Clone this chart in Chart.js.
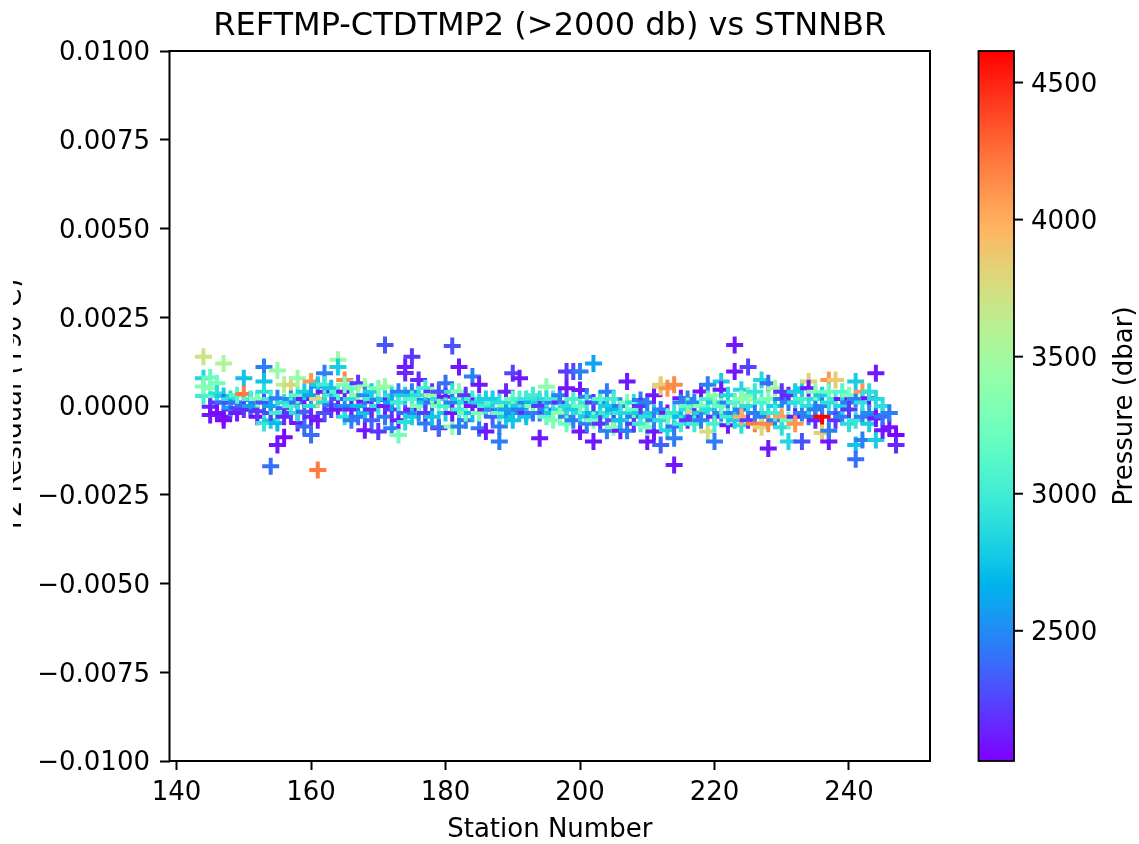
<!DOCTYPE html>
<html>
<head>
<meta charset="utf-8">
<script src="https://cdn.jsdelivr.net/npm/chart.js@4.4.1/dist/chart.umd.min.js"></script>
<style>
html,body{margin:0;padding:0;background:#fff;}
canvas{display:block;}
</style>
</head>
<body>
<canvas id="c" width="1139" height="844"></canvas>
<script>
// ---- Data (grouped by station) ----
const stations = [144,145,146,147,148,149,150,151,152,153,154,155,156,157,158,159,160,161,162,163,164,165,166,167,168,169,170,171,172,173,174,175,176,177,178,179,180,181,182,183,184,185,186,187,188,189,190,191,192,193,194,195,196,197,198,199,200,201,202,203,204,205,206,207,208,209,210,211,212,213,214,215,216,217,218,219,220,221,222,223,224,225,226,227,228,229,230,231,232,233,234,235,236,237,238,239,240,241,242,243,244,245,246,247];

const residuals = [
 [0.00139,0.00078,0.00028,0.00055],
 [0.00080,0.00028,-0.00002,-0.00025,0.00050],
 [0.00064,0.00010,-0.00020,0.00035],
 [0.00120,0.00028,-0.00030,-0.00040,0.00010],
 [0.00010,-0.00010,0.00020,-0.00005],
 [-0.00006,0.00010,-0.00020,0.00030],
 [0.00078,0.00034,0.00000,-0.00010],
 [0.00017,-0.00010,0.00020,0.00000],
 [-0.00030,0.00010,-0.00015,0.00020],
 [0.00110,0.00069,0.00040,-0.00048,0.00010],
 [-0.00170,-0.00040,0.00020,-0.00020,0.00000],
 [0.00100,-0.00110,-0.00048,0.00022,-0.00020],
 [-0.00088,-0.00006,0.00010,0.00060,-0.00030],
 [0.00060,0.00020,-0.00020,0.00000],
 [0.00078,-0.00048,0.00010,-0.00020,0.00030],
 [-0.00058,-0.00016,0.00020,0.00040],
 [-0.00082,0.00069,0.00000,0.00030,-0.00030],
 [-0.00180,0.00020,-0.00040,0.00055,0.00060],
 [0.00092,0.00040,0.00010,-0.00020,0.00060],
 [0.00003,0.00030,-0.00010,0.00050],
 [0.00130,0.00110,0.00020,-0.00010,0.00040],
 [0.00073,0.00040,0.00000,-0.00030,0.00060],
 [-0.00040,0.00020,0.00050,-0.00010],
 [0.00064,0.00000,-0.00030,0.00030],
 [0.00012,-0.00068,0.00055,-0.00020,0.00030],
 [-0.00040,0.00020,0.00040,-0.00010],
 [-0.00072,0.00017,0.00000,0.00050],
 [0.00172,0.00055,0.00020,-0.00030,0.00000],
 [-0.00063,0.00030,-0.00010,0.00010],
 [-0.00082,0.00040,0.00010,-0.00040],
 [0.00110,0.00093,-0.00020,0.00030,-0.00045],
 [0.00139,0.00040,-0.00010,0.00020,-0.00030],
 [0.00073,0.00030,-0.00020,0.00000],
 [0.00017,-0.00049,0.00050,0.00010,-0.00020],
 [0.00040,-0.00030,0.00010,0.00030],
 [-0.00063,-0.00060,0.00020,0.00040,0.00000],
 [0.00064,0.00026,-0.00020,0.00000],
 [0.00169,-0.00058,0.00040,0.00010,-0.00020],
 [0.00110,-0.00058,0.00020,-0.00010,0.00040],
 [-0.00040,0.00010,0.00030,-0.00020],
 [0.00083,0.00020,-0.00020,0.00000],
 [0.00060,-0.00063,0.00010,-0.00020],
 [-0.00072,-0.00010,0.00020,0.00000],
 [-0.00010,0.00010,-0.00030,0.00020],
 [-0.00100,-0.00058,0.00010,-0.00020],
 [0.00040,-0.00030,0.00000,-0.00010],
 [0.00092,0.00010,-0.00020,0.00020,-0.00040],
 [0.00078,0.00000,-0.00010,0.00020],
 [0.00010,-0.00020,0.00020,-0.00030],
 [0.00010,-0.00020,0.00030,0.00000],
 [-0.00091,0.00010,-0.00020,0.00020,0.00000],
 [0.00054,-0.00010,0.00020,-0.00030],
 [0.00010,-0.00020,0.00020,-0.00040],
 [0.00010,-0.00010,0.00030,-0.00020],
 [0.00097,0.00050,-0.00030,0.00000,-0.00050],
 [0.00097,-0.00010,0.00020,-0.00040],
 [0.00097,0.00045,-0.00072,-0.00020,0.00000],
 [0.00026,-0.00030,0.00010,-0.00050],
 [0.00120,-0.00100,-0.00020,0.00010,-0.00040],
 [0.00010,-0.00030,-0.00050,0.00020],
 [0.00040,-0.00070,-0.00020,0.00000],
 [-0.00010,-0.00040,0.00020,-0.00060],
 [-0.00070,0.00000,-0.00020,-0.00040],
 [0.00069,-0.00070,-0.00020,0.00010],
 [-0.00030,0.00010,-0.00050,-0.00010],
 [0.00017,-0.00020,-0.00050,0.00000],
 [-0.00100,-0.00030,0.00010,-0.00060],
 [-0.00072,0.00030,-0.00020,-0.00040],
 [0.00054,-0.00010,-0.00040,-0.00110,0.00060],
 [0.00050,-0.00068,-0.00020,-0.00030],
 [-0.00166,0.00060,-0.00058,-0.00091,-0.00020],
 [0.00022,-0.00030,0.00010,-0.00050],
 [-0.00010,0.00020,-0.00040,0.00000],
 [-0.00016,0.00010,-0.00030,-0.00050],
 [0.00041,-0.00020,0.00000,-0.00040],
 [0.00060,-0.00072,-0.00010,0.00020],
 [-0.00100,-0.00030,0.00010,-0.00050,0.00030],
 [0.00069,0.00046,-0.00020,0.00000],
 [-0.00054,0.00010,-0.00030,0.00030],
 [0.00172,0.00097,-0.00020,0.00010,-0.00040],
 [-0.00054,0.00046,-0.00010,-0.00030,0.00020],
 [0.00110,-0.00040,0.00000,0.00030],
 [-0.00050,0.00018,-0.00020,0.00040],
 [0.00073,-0.00030,0.00010,-0.00060],
 [0.00064,-0.00120,-0.00020,0.00020,-0.00050],
 [0.00050,-0.00040,0.00000,-0.00020],
 [0.00020,-0.00030,-0.00060,0.00040],
 [-0.00100,0.00010,-0.00040,0.00030],
 [0.00010,-0.00030,0.00040,-0.00050],
 [-0.00100,-0.00020,0.00020,0.00050],
 [0.00069,0.00050,-0.00030,0.00000],
 [0.00020,-0.00040,0.00040,-0.00010],
 [-0.00030,-0.00076,0.00030,0.00000],
 [-0.00100,0.00073,-0.00070,0.00010,0.00040],
 [0.00073,-0.00020,0.00020,-0.00040],
 [0.00020,-0.00030,0.00040,0.00000],
 [0.00010,-0.00050,0.00030,-0.00010],
 [0.00069,-0.00110,-0.00150,0.00020,-0.00040],
 [0.00040,-0.00096,-0.00030,0.00010],
 [0.00022,-0.00020,0.00040,-0.00050],
 [0.00092,0.00020,-0.00025,-0.00096,-0.00035],
 [-0.00068,-0.00030,0.00000],
 [-0.00060,-0.00020],
 [-0.00082,-0.00110]
];

const pressures = [
 [3700,2850,3000,3300],
 [3200,3050,2150,2100,3350],
 [3250,2200,2050,2900],
 [3550,2800,2100,2050,2400],
 [2300,2150,2900,2600],
 [2250,2400,2100,3100],
 [2750,4200,2400,2200],
 [2450,2150,3050,2600],
 [2050,2450,2200,3300],
 [2450,2750,2900,2950,2300],
 [2400,2800,3000,2250,2600],
 [3450,2100,2700,2450,3000],
 [2050,2350,2900,3600,2150],
 [3800,2500,2200,3050],
 [3450,2100,2400,2900,3150],
 [2400,2350,2100,2800],
 [2400,4100,2900,2600,2150],
 [4200,3800,2100,2450,2800],
 [2450,2100,2900,2300,3000],
 [2450,3000,2200,2750],
 [3450,2800,2300,2100,3100],
 [4150,2100,2500,2900,3300],
 [2450,2900,3200,2150],
 [2200,2700,2400,3400],
 [2100,2100,3450,2750,2500],
 [2350,3000,2800,2150],
 [2200,2450,2900,3300],
 [2300,3450,2800,2450,2100],
 [2450,2900,2200,2600],
 [3250,2450,3000,2100],
 [2100,2150,2350,2800,2900],
 [2200,2450,2100,3100,2800],
 [2150,2900,2500,3300],
 [2450,2450,3000,2800,2200],
 [2200,2750,2400,3450],
 [2100,2400,2900,2300,3300],
 [2400,2100,2800,3050],
 [2300,3400,2900,2450,2100],
 [2100,2450,2800,3000,3350],
 [2450,2900,2200,3200],
 [2450,3000,2750,2100],
 [2100,2450,2850,3300],
 [2100,2100,2800,3000],
 [2500,3100,2350,2800],
 [2450,2450,2900,3200],
 [2150,2800,3350,2600],
 [2250,2900,2500,3200,2750],
 [2100,2800,2450,3050],
 [2450,2150,2950,2750],
 [2700,2400,3000,3300],
 [2100,2800,2450,2950,2200],
 [3400,2450,2900,3150],
 [2450,2750,3000,3300],
 [2150,2900,2450,3400],
 [2200,2100,2450,2900,3200],
 [2250,2800,3050,2450],
 [2450,2100,2100,2900,3200],
 [2450,2800,2950,2450],
 [2600,2100,2700,2200,3300],
 [2450,2900,2200,3100],
 [2450,2450,2950,2800],
 [2700,2300,3000,3350],
 [2100,2450,2950,2750],
 [2100,2450,2850,3300],
 [2450,2900,2200,3200],
 [2450,2800,3000,2200],
 [2100,2900,2450,3300],
 [2100,2100,2800,2450],
 [3800,2450,2900,2350,3850],
 [4100,2850,2100,3200],
 [2100,4150,2400,2450,2950],
 [2100,2700,2450,3000],
 [2900,2450,2200,3200],
 [3800,2500,2200,3000],
 [2100,2800,3300,2450],
 [2450,3750,2900,3050],
 [2450,2150,2800,3050,3400],
 [2800,2100,2500,3200],
 [2100,2450,3000,2850],
 [2100,2100,2450,3100,2800],
 [2900,2850,2450,4000,3400],
 [2250,2200,2900,3300],
 [4200,3450,2450,2950],
 [2850,2450,3050,3800],
 [2400,2100,2900,3300,4150],
 [3500,2450,2800,3000],
 [2450,4050,2900,2200],
 [2850,2450,3200,2150],
 [2900,2100,2800,4100],
 [2300,2450,3050,2800],
 [3800,2100,2450,2900],
 [2900,2150,3350,2450],
 [4615,3850,2800,2450],
 [2100,4100,2450,2900,3200],
 [3850,2450,3000,2200],
 [2100,2450,3100,2850],
 [2450,2900,3300,2200],
 [2800,2750,2400,2450,2950],
 [4100,2450,2450,2900],
 [2100,2500,2900,2800],
 [2100,2850,2450,2800,2100],
 [2100,2400,2900],
 [2100,2450],
 [2025,2150]
];

const xTicks = [140,160,180,200,220,240];
const yTicks = [-0.01,-0.0075,-0.005,-0.0025,0,0.0025,0.005,0.0075,0.01];
const cbTicks = [2500,3000,3500,4000,4500];

const titleText = 'REFTMP-CTDTMP2 (>2000 db) vs STNNBR';
const xLabel = 'Station Number';
const yLabel = 'T2 Residual (T90 C)';
const cbLabel = 'Pressure (dbar)';

// ---- Build points ----
const points = [];
const pvals = [];
stations.forEach((s, i) => {
  residuals[i].forEach((r, j) => {
    points.push({x: s, y: r});
    pvals.push(pressures[i][j]);
  });
});
const cmin = Math.min(...pvals);
const cmax = Math.max(...pvals);

function rainbow(t) {
  t = Math.max(0, Math.min(1, t));
  const cl = v => Math.max(0, Math.min(1, v));
  const r = cl(Math.abs(2 * t - 0.5));
  const g = cl(Math.sin(Math.PI * t));
  const b = cl(Math.cos(Math.PI * t / 2));
  return `rgb(${Math.round(r*255)},${Math.round(g*255)},${Math.round(b*255)})`;
}
const colors = pvals.map(p => rainbow((p - cmin) / (cmax - cmin)));

const FONT = 'DejaVu Sans';
const tickFont = {family: FONT, size: 26};

const frameAndText = {
  id: 'frameAndText',
  afterDraw(chart) {
    const ctx = chart.ctx;
    const a = chart.chartArea;
    ctx.save();
    // frame
    ctx.strokeStyle = '#000';
    ctx.lineWidth = 2;
    ctx.strokeRect(a.left, a.top, a.right - a.left, a.bottom - a.top);
    // title
    ctx.fillStyle = '#000';
    ctx.font = `32px "${FONT}"`;
    ctx.textAlign = 'center';
    ctx.textBaseline = 'alphabetic';
    ctx.fillText(titleText, (a.left + a.right) / 2, 35);
    // clipped y label
    ctx.save();
    ctx.beginPath();
    ctx.rect(13, 0, 9, 844);
    ctx.clip();
    ctx.translate(21, (a.top + a.bottom) / 2);
    ctx.rotate(-Math.PI / 2);
    ctx.font = `26px "${FONT}"`;
    ctx.textAlign = 'center';
    ctx.fillText(yLabel, 0, 0);
    ctx.restore();
    // colorbar
    const L = 978.5, R = 1014, T = a.top, B = a.bottom;
    const vy = v => B - (v - cmin) / (cmax - cmin) * (B - T);
    for (let y = T; y < B; y++) {
      const v = cmin + (B - (y + 0.5)) / (B - T) * (cmax - cmin);
      ctx.fillStyle = rainbow((v - cmin) / (cmax - cmin));
      ctx.fillRect(L, y, R - L, 1);
    }
    ctx.strokeStyle = '#000';
    ctx.lineWidth = 1.8;
    ctx.strokeRect(L, T, R - L, B - T);
    ctx.lineWidth = 2;
    ctx.font = `26px "${FONT}"`;
    ctx.textAlign = 'left';
    ctx.textBaseline = 'middle';
    ctx.fillStyle = '#000';
    cbTicks.forEach(v => {
      const y = vy(v);
      ctx.beginPath();
      ctx.moveTo(R, y);
      ctx.lineTo(R + 9, y);
      ctx.stroke();
      ctx.fillText(String(v), R + 17, y + 2.5);
    });
    ctx.save();
    ctx.translate(1132, (T + B) / 2);
    ctx.rotate(-Math.PI / 2);
    ctx.textAlign = 'center';
    ctx.textBaseline = 'alphabetic';
    ctx.fillText(cbLabel, 0, 0);
    ctx.restore();
    ctx.restore();
  }
};

new Chart(document.getElementById('c'), {
  type: 'scatter',
  data: {
    datasets: [{
      data: points,
      pointStyle: 'cross',
      pointRadius: 8.5,
      pointHoverRadius: 8.5,
      borderWidth: 4,
      borderColor: colors,
      backgroundColor: colors
    }]
  },
  options: {
    responsive: false,
    animation: false,
    devicePixelRatio: 1,
    events: [],
    layout: {padding: {left: 0, right: 209, top: 51, bottom: 0}},
    plugins: {legend: {display: false}, tooltip: {enabled: false}, title: {display: false}},
    scales: {
      x: {
        type: 'linear',
        min: 138.95,
        max: 252.05,
        afterBuildTicks: s => { s.ticks = xTicks.map(v => ({value: v})); },
        afterFit: s => { s.height = 83; },
        border: {display: false},
        grid: {display: true, drawOnChartArea: false, drawTicks: true, tickLength: 9, tickWidth: 2, tickColor: '#000'},
        ticks: {font: tickFont, color: '#000', padding: 8, maxRotation: 0, autoSkip: false, callback: v => String(v)},
        title: {display: true, text: xLabel, font: tickFont, color: '#000', padding: {top: 0, bottom: -2}}
      },
      y: {
        type: 'linear',
        min: -0.01,
        max: 0.01,
        afterBuildTicks: s => { s.ticks = yTicks.map(v => ({value: v})); },
        afterFit: s => { s.width = 169.5; },
        border: {display: false},
        grid: {display: true, drawOnChartArea: false, drawTicks: true, tickLength: 9.5, tickWidth: 2, tickColor: '#000'},
        ticks: {font: tickFont, color: '#000', padding: 10, autoSkip: false, labelOffset: 2.5,
          callback: v => v.toFixed(4).replace('-', '\u2212')}
      }
    }
  },
  plugins: [frameAndText]
});
</script>
</body>
</html>
